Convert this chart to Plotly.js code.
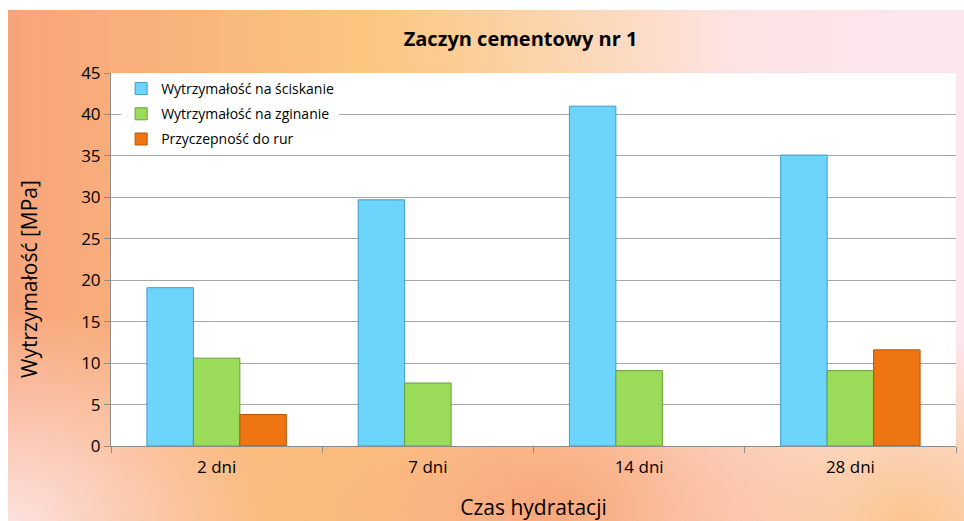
<!DOCTYPE html>
<html><head><meta charset="utf-8">
<script src="https://cdn.plot.ly/plotly-3.0.1.min.js"></script>
<style>
html,body{margin:0;padding:0;background:#fff;}
#wrap{position:absolute;left:8px;top:10px;width:956px;height:511px;
background:
 radial-gradient(ellipse 300px 200px at 540px 500px, rgba(249,164,120,0.95), rgba(249,164,120,0) 100%),
 radial-gradient(ellipse 260px 220px at 0px 520px, rgba(253,228,225,1), rgba(253,228,225,0) 100%),
 radial-gradient(ellipse 250px 200px at 900px 520px, rgba(250,196,140,1), rgba(250,196,140,0) 100%),
 linear-gradient(to right, #f8a47a 0%, #f9b47c 18%, #fbc67f 38%, #fcd6b0 58%, #fde3e3 76%, #fde6f0 100%);}
#chart{position:absolute;left:-8px;top:-10px;width:964px;height:521px;}
</style></head>
<body>
<div id="wrap"><div id="chart"></div></div>
<script>
const categories = ['2 dni', '7 dni', '14 dni', '28 dni'];
const compressive = [19.1, 29.7, 41.0, 35.1];
const flexural = [10.6, 7.6, 9.1, 9.1];
const adhesion = [3.8, null, null, 11.6];
const seriesNames = ['Wytrzymałość na ściskanie', 'Wytrzymałość na zginanie', 'Przyczepność do rur'];
const yTicks = [0, 5, 10, 15, 20, 25, 30, 35, 40, 45];

const FONT = '"Open Sans", "Noto Sans", sans-serif';
const colors = ['#6dd4fb', '#9bdb5a', '#ef7412'];
const lines = ['#3f9cc8', '#66a236', '#b2560c'];
const data = [compressive, flexural, adhesion].map((v, i) => ({
  type: 'bar', x: categories, y: v, name: seriesNames[i], legendgroup: 'g' + i,
  marker: {color: colors[i], line: {color: lines[i], width: 1}}
}));

const layout = {
  width: 964, height: 521,
  paper_bgcolor: 'rgba(0,0,0,0)', plot_bgcolor: '#ffffff',
  margin: {l: 111, r: 8, t: 73, b: 75},
  font: {family: FONT, color: '#000', size: 14},
  title: {text: '<b>Zaczyn cementowy nr 1</b>', font: {size: 20, family: FONT, color: '#000'},
          x: 0.54, xanchor: 'center', y: 0.925, yanchor: 'middle'},
  barmode: 'group', bargap: 0.34, bargroupgap: 0,
  xaxis: {type: 'category', showgrid: false, showline: true, linecolor: '#8c8c8c', linewidth: 1,
          ticks: 'outside', tickson: 'boundaries', ticklen: 6, tickcolor: '#8c8c8c',
          ticklabelstandoff: 6,
          tickfont: {size: 17, family: FONT},
          title: {text: 'Czas hydratacji', font: {size: 21, family: FONT}, standoff: 22}},
  yaxis: {range: [0, 45], tickvals: yTicks, showgrid: true, gridcolor: '#a6a6a6', gridwidth: 1.2,
          showline: true, linecolor: '#8c8c8c', ticks: 'outside', ticklen: 6, tickcolor: '#8c8c8c',
          zeroline: false, tickfont: {size: 17, family: FONT}},
  annotations: [{text: 'Wytrzymałość [MPa]', textangle: -90, xref: 'paper', yref: 'paper',
                 x: -0.097, y: 0.448, xanchor: 'center', yanchor: 'middle', showarrow: false,
                 font: {size: 21, family: FONT, color: '#000'}}],
  showlegend: true,
  legend: {x: 0.012, y: 1, xanchor: 'left', yanchor: 'top', bgcolor: '#ffffff',
           traceorder: 'grouped', tracegroupgap: 4, itemwidth: 30,
           font: {size: 14, family: FONT}}
};
Plotly.newPlot('chart', data, layout, {displayModeBar: false, staticPlot: true});
</script>
</body></html>
